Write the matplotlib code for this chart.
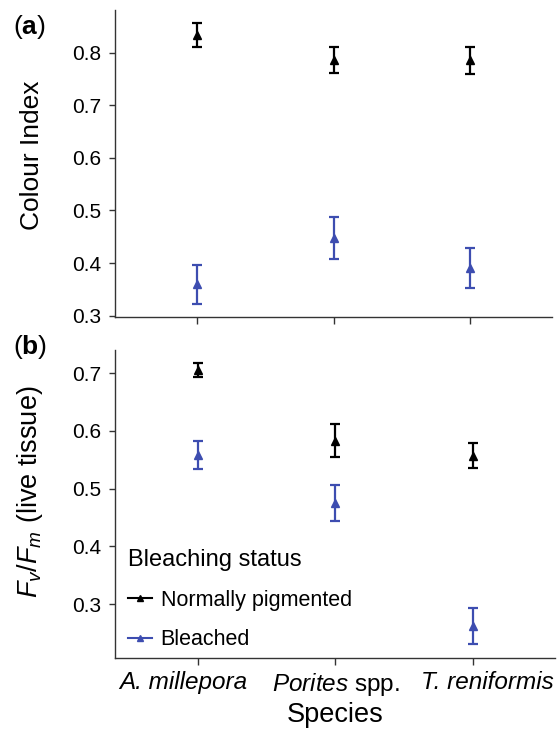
import matplotlib
matplotlib.use("Agg")
import matplotlib.pyplot as plt
import matplotlib.transforms as mtransforms
import numpy as np

plt.rcParams['font.family'] = ['Liberation Sans', 'DejaVu Sans']
plt.rcParams['mathtext.fontset'] = 'custom'
plt.rcParams['mathtext.rm'] = 'Liberation Sans'
plt.rcParams['mathtext.it'] = 'Liberation Sans:italic'
plt.rcParams['mathtext.bf'] = 'Liberation Sans:bold'

species = ["A. millepora", "Porites spp.", "T. reniformis"]
status = ["Normally pigmented", "Bleached"]
colours = ["black", "#3D4DB0"]

# colour index (panel a): mean and s.e.
ci_mean = [[0.834, 0.786, 0.785], [0.360, 0.448, 0.391]]
ci_err = [[0.023, 0.025, 0.025], [0.037, 0.040, 0.038]]

# Fv/Fm (panel b)
fv_mean = [[0.706, 0.583, 0.557], [0.558, 0.475, 0.262]]
fv_err = [[0.012, 0.028, 0.022], [0.024, 0.032, 0.031]]

x = np.arange(len(species))

fig = plt.figure(figsize=(5.57, 7.29), dpi=100)
ax1 = fig.add_axes([0.2065, 0.5648, 0.785, 0.4215])
ax2 = fig.add_axes([0.2065, 0.0970, 0.790, 0.4229])

for ax, means, errs in [(ax1, ci_mean, ci_err), (ax2, fv_mean, fv_err)]:
    for i in range(2):
        ax.errorbar(x, means[i], yerr=errs[i], fmt='^', color=colours[i],
                    markersize=6, elinewidth=1.6, capsize=3.5, capthick=1.6,
                    linestyle='none')
    for s in ['top', 'right']:
        ax.spines[s].set_visible(False)
    for s in ['left', 'bottom']:
        ax.spines[s].set_color('#333333')
        ax.spines[s].set_linewidth(1.0)
    ax.set_xlim(-0.6, 2.6)
    ax.set_xticks(x)
    ax.tick_params(axis='y', labelsize=15, length=4, width=1.0,
                   color='#333333', pad=6)
    ax.tick_params(axis='x', labelsize=17.5, length=5, width=1.0,
                   color='#333333', pad=4)

ax1.set_ylim(0.297, 0.881)
ax1.set_yticks([0.3, 0.4, 0.5, 0.6, 0.7, 0.8])
ax1.set_xticklabels([])
ax1.set_ylabel("Colour Index", fontsize=19, ha='center', va='center')
ax1.yaxis.set_label_coords(-0.19, 0.528)

ax2.set_ylim(0.206, 0.740)
ax2.set_yticks([0.3, 0.4, 0.5, 0.6, 0.7])
ax2.set_xticklabels(["A. millepora", r"$\it{Porites}$ spp.", "T. reniformis"])
labels = ax2.get_xticklabels()
labels[0].set_fontstyle('italic')
labels[2].set_fontstyle('italic')
# the outer labels sit a little off their ticks in the original
for lab, dx in zip(labels, [-14, 1, 15]):
    lab.set_transform(lab.get_transform() +
                      mtransforms.ScaledTranslation(dx / 100, 0, fig.dpi_scale_trans))
ax2.set_ylabel(r"$F_v/F_m$ (live tissue)", fontsize=19.5, ha='center', va='center')
ax2.yaxis.set_label_coords(-0.194, 0.539)
ax2.set_xlabel("Species", fontsize=19.5, labelpad=3)

handles = [plt.Line2D([], [], color=colours[i], marker='^', markersize=4,
                      linewidth=1.5) for i in range(2)]
leg = ax2.legend(handles, status, title="Bleaching status", loc='upper left',
                 bbox_to_anchor=(0.03, 0.356), frameon=False, fontsize=15.5,
                 title_fontsize=17, handlelength=1.1, handletextpad=0.4,
                 labelspacing=0.85, borderaxespad=0, borderpad=0)
leg._legend_box.align = "left"
leg._legend_box.sep = 14

fig.text(0.023, 0.963, r"($\mathbf{a}$)", fontsize=19, va='center')
fig.text(0.023, 0.524, r"($\mathbf{b}$)", fontsize=19, va='center')

fig.savefig("out.png", dpi=100)
